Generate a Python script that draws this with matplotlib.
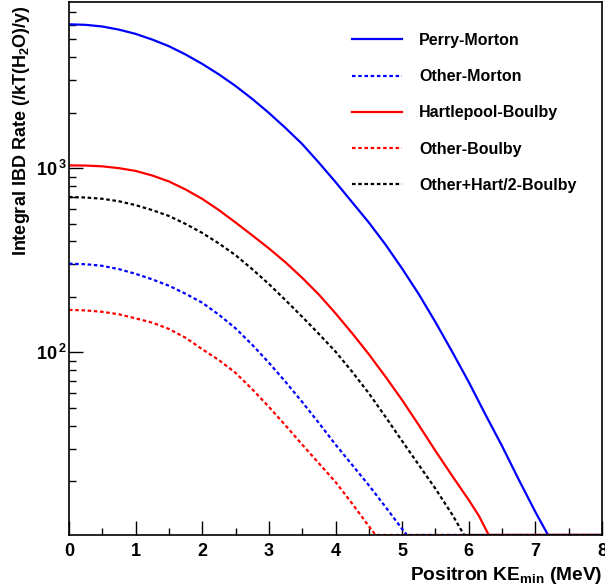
import numpy as np
import matplotlib
matplotlib.use("Agg")
import matplotlib.pyplot as plt
from matplotlib.ticker import FixedLocator, NullFormatter

# --- data (x = positron KE_min in MeV, y = integral rate) ---
x_perry = [0, 0.25, 0.5, 0.75, 1, 1.25, 1.5, 1.75, 2, 2.25, 2.5, 2.75, 3, 3.25, 3.5, 3.75,
           4, 4.25, 4.5, 4.75, 5, 5.25, 5.5, 5.75, 6, 6.25, 6.5, 6.75, 7, 7.19, 7.25, 8]
perry_morton = [6039, 5998, 5875, 5649, 5358, 4989, 4592, 4140, 3681, 3228, 2793, 2377, 1995, 1652,
                1352, 1072, 841, 653, 507, 385, 285, 207, 146, 101, 69, 46, 31, 20.4, 13.6, 9.8, 0, 0]

x_hart = [0, 0.25, 0.5, 0.75, 1, 1.25, 1.5, 1.75, 2, 2.25, 2.5, 2.75, 3, 3.25, 3.5, 3.75,
          4, 4.25, 4.5, 4.75, 5, 5.25, 5.5, 5.75, 6, 6.15, 6.3, 6.35, 8]
hart_boulby = [1035, 1033, 1023, 1000, 966, 912, 847, 766, 681, 592, 507, 432, 367, 308, 254, 206,
               163, 127, 97.7, 73.8, 55.1, 40.3, 29.2, 21.4, 15.8, 13.0, 9.8, 0, 0]

x_sum = [0, 0.25, 0.5, 0.75, 1, 1.25, 1.5, 1.75, 2, 2.25, 2.5, 2.75, 3, 3.25, 3.5, 3.75,
         4, 4.25, 4.5, 4.75, 5, 5.25, 5.5, 5.75, 5.93, 6.0, 8]
other_hart2_boulby = [697, 693, 682, 661, 630, 592, 550, 498, 445, 390, 337, 283, 235, 192, 156, 126,
                      101, 78.5, 60.0, 44.7, 33.0, 24.5, 18.2, 13.2, 9.8, 0, 0]

x_om = [0, 0.25, 0.5, 0.75, 1, 1.25, 1.5, 1.75, 2, 2.25, 2.5, 2.75, 3, 3.25, 3.5, 3.75,
        4, 4.25, 4.5, 4.75, 5, 5.07, 5.12, 8]
other_morton = [303, 301, 295, 283, 267, 249, 230, 208, 186, 160, 135, 110, 87.9, 69.2, 53.8, 41.4,
                31.6, 24.5, 19.0, 14.5, 11.0, 9.8, 0, 0]

x_ob = [0, 0.25, 0.5, 0.75, 1, 1.25, 1.5, 1.75, 2, 2.25, 2.5, 2.75, 3, 3.25, 3.5, 3.75,
        4, 4.25, 4.5, 4.6, 4.65, 8]
other_boulby = [170, 169, 166, 161, 153, 145, 134, 120, 104, 90.8, 77.4, 63.1, 50.6, 40.1, 31.6, 25.0,
                19.8, 15.1, 11.4, 9.8, 0, 0]

YMIN, YMAX = 10.2, 7980

plt.rcParams['font.family'] = ['Liberation Sans', 'DejaVu Sans']
plt.rcParams['font.weight'] = 'bold'
plt.rcParams['mathtext.fontset'] = 'custom'
plt.rcParams['mathtext.rm'] = 'Liberation Sans:bold'
plt.rcParams['mathtext.bf'] = 'Liberation Sans:bold'
plt.rcParams['mathtext.it'] = 'Liberation Sans:bold'

fig = plt.figure(figsize=(6.05, 5.86), dpi=100)
ax = fig.add_axes([69 / 605, 51 / 586, 533 / 605, 533 / 586])

dot = (0, (1.6, 1.2))


def draw(x, y, **kw):
    # ROOT clips zero values onto the bottom edge of the frame
    ax.plot(x, np.maximum(np.array(y, dtype=float), YMIN), lw=1.6, **kw)


draw(x_perry, perry_morton, color='#0000ff', ls='-', label='Perry-Morton')
draw(x_om, other_morton, color='#0000ff', ls=dot, label='Other-Morton')
draw(x_hart, hart_boulby, color='#ff0000', ls='-', label='Hartlepool-Boulby')
draw(x_ob, other_boulby, color='#ff0000', ls=dot, label='Other-Boulby')
draw(x_sum, other_hart2_boulby, color='black', ls=dot, label='Other+Hart/2-Boulby')

ax.set_yscale('log')
ax.set_xlim(0, 8)
ax.set_ylim(YMIN, YMAX)

ax.xaxis.set_major_locator(FixedLocator(range(0, 9)))
ax.xaxis.set_minor_locator(FixedLocator(np.arange(0.5, 8, 1.0)))
ax.set_xticklabels([str(i) for i in range(0, 9)])

minors = [m * 10 ** e for e in (1, 2, 3) for m in range(2, 10) if YMIN < m * 10 ** e < YMAX]
ax.yaxis.set_major_locator(FixedLocator([100, 1000]))
ax.yaxis.set_minor_locator(FixedLocator(minors))
ax.set_yticklabels([r'$10^{\,2}$', r'$10^{\,3}$'])
ax.yaxis.set_minor_formatter(NullFormatter())

ax.tick_params(which='both', direction='in', top=False, right=False, width=1, labelsize=13)
ax.tick_params(axis='x', which='major', length=10, pad=6)
ax.tick_params(axis='y', which='major', length=10, pad=2)
ax.tick_params(which='minor', length=5)
for s in ax.spines.values():
    s.set_linewidth(1.2)

ax.set_xlabel(r'Positron KE$_{min}$ (MeV)', fontsize=13.8, fontweight='bold', loc='right', labelpad=3)
ax.set_ylabel(r'Integral IBD Rate (/kT(H$_2$O)/y)', fontsize=13, fontweight='bold', loc='top')
ax.yaxis.set_label_coords((32 - 69) / 533, 1 - 3 / 533)

leg = ax.legend(loc='upper left', bbox_to_anchor=((352 - 69) / 533, 1 - 31 / 533),
                frameon=False, fontsize=11.5, handlelength=3.1, handletextpad=1.1,
                labelspacing=1.33, borderpad=0, borderaxespad=0)
for t in leg.get_texts():
    t.set_fontweight('bold')

fig.savefig('out.png', dpi=100)
